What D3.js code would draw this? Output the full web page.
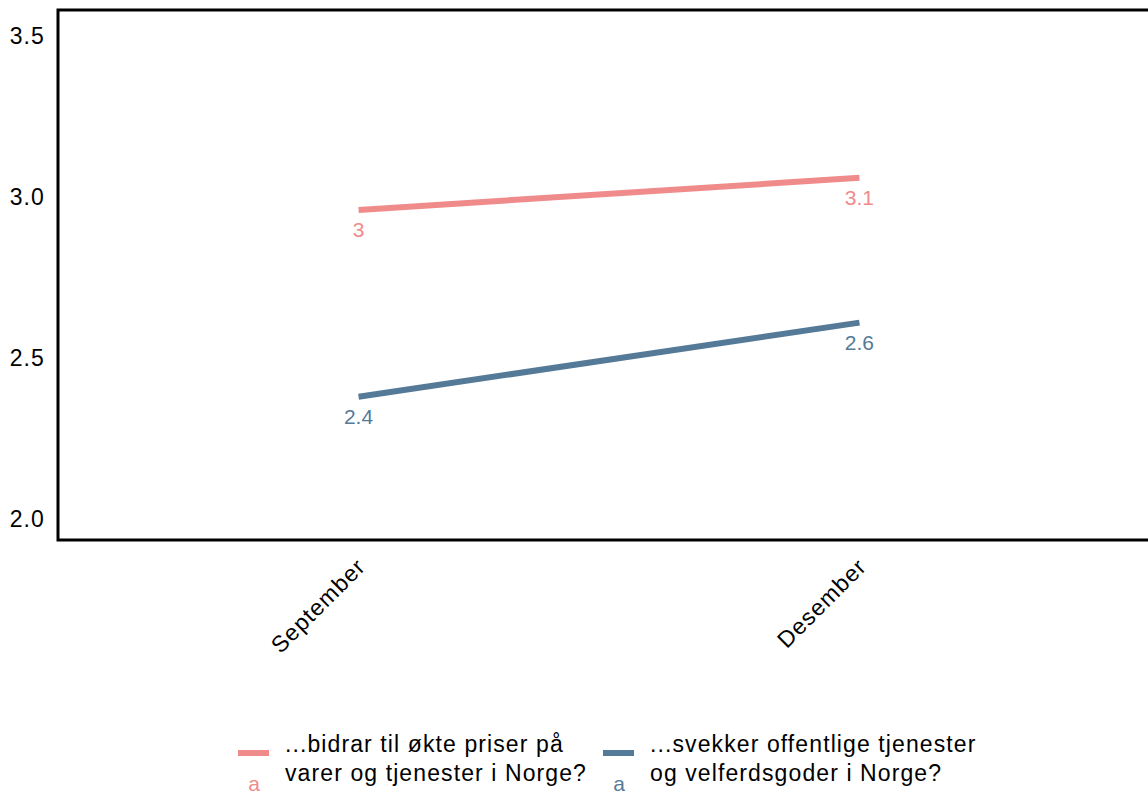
<!DOCTYPE html>
<html>
<head>
<meta charset="utf-8">
<script src="https://cdn.jsdelivr.net/npm/d3@7"></script>
<style>
  html, body { margin: 0; padding: 0; background: #ffffff; }
  svg { display: block; font-family: "Liberation Sans", Arial, sans-serif; }
</style>
</head>
<body>
<svg id="chart" width="1148" height="793"></svg>
<script>
// ---- data ----
const months = ["September", "Desember"];
const seriesNames = [
  ["...bidrar til økte priser på", "varer og tjenester i Norge?"],
  ["...svekker offentlige tjenester", "og velferdsgoder i Norge?"]
];
const seriesPriser = [2.96, 3.06];
const seriesVelferd = [2.38, 2.61];
const seriesColors = ["#F08B8B", "#547A98"];
const yTicks = [2.0, 2.5, 3.0, 3.5];

const series = [seriesPriser, seriesVelferd].map((vals, i) => ({
  name: seriesNames[i],
  color: seriesColors[i],
  values: vals.map((v, j) => ({ month: months[j], value: v }))
}));

// ---- layout ----
const svg = d3.select("#chart");
const pLeft = 58, pRight = 1160, pTop = 10, pBottom = 540;
const FONT = "Liberation Sans, Arial, sans-serif";

const x = d3.scalePoint().domain(months).range([pLeft, pRight]).padding(0.6);
const y = d3.scaleLinear().domain([1.935, 3.581]).range([pBottom, pTop]);

// y axis labels (no ticks)
const yAxis = d3.axisLeft(y).tickValues(yTicks).tickFormat(d3.format(".1f")).tickSize(0).tickPadding(13);
const gy = svg.append("g").attr("transform", `translate(${pLeft},0)`).call(yAxis);
gy.select(".domain").remove();
gy.selectAll("text").attr("font-size", 23).attr("letter-spacing", 1.1)
  .attr("fill", "#000").attr("font-family", FONT);

// x axis labels rotated
const xAxis = d3.axisBottom(x).tickSize(0).tickPadding(0);
const gx = svg.append("g").attr("transform", `translate(0,${pBottom})`).call(xAxis);
gx.select(".domain").remove();
gx.selectAll("text")
  .attr("font-size", 23).attr("letter-spacing", 1.1).attr("fill", "#000")
  .attr("font-family", FONT)
  .attr("text-anchor", "end")
  .attr("dy", null)
  .attr("y", 0)
  .attr("transform", "translate(8,28) rotate(-45)");

// lines
const line = d3.line().x(d => x(d.month)).y(d => y(d.value));
svg.append("g").selectAll("path").data(series).join("path")
  .attr("d", d => line(d.values))
  .attr("fill", "none")
  .attr("stroke", d => d.color)
  .attr("stroke-width", 6);

// value labels
const fmt = v => String(Math.round(v * 10) / 10);
series.forEach(s => {
  svg.append("g").selectAll("text").data(s.values).join("text")
    .attr("x", d => x(d.month))
    .attr("y", d => y(d.value) + 27)
    .attr("text-anchor", "middle")
    .attr("font-size", 21)
    .attr("fill", s.color)
    .text(d => fmt(d.value));
});

// panel border
svg.append("rect")
  .attr("x", pLeft).attr("y", pTop)
  .attr("width", pRight - pLeft).attr("height", pBottom - pTop)
  .attr("fill", "none").attr("stroke", "#000").attr("stroke-width", 3);

// legend
const legendX = [238, 603];
const leg = svg.append("g").selectAll("g").data(series).join("g")
  .attr("transform", (d, i) => `translate(${legendX[i]},0)`);
leg.append("line")
  .attr("x1", 0).attr("x2", 31).attr("y1", 753).attr("y2", 753)
  .attr("stroke", d => d.color).attr("stroke-width", 6);
leg.append("text")
  .attr("x", 16).attr("y", 791)
  .attr("text-anchor", "middle").attr("font-size", 21)
  .attr("fill", d => d.color).text("a");
leg.each(function(d) {
  const t = d3.select(this).append("text")
    .attr("x", 47).attr("y", 752)
    .attr("font-size", 23).attr("letter-spacing", 1.1).attr("fill", "#000");
  d.name.forEach((ln, k) => {
    t.append("tspan").attr("x", 47).attr("dy", k === 0 ? 0 : 29).text(ln);
  });
});
</script>
</body>
</html>
